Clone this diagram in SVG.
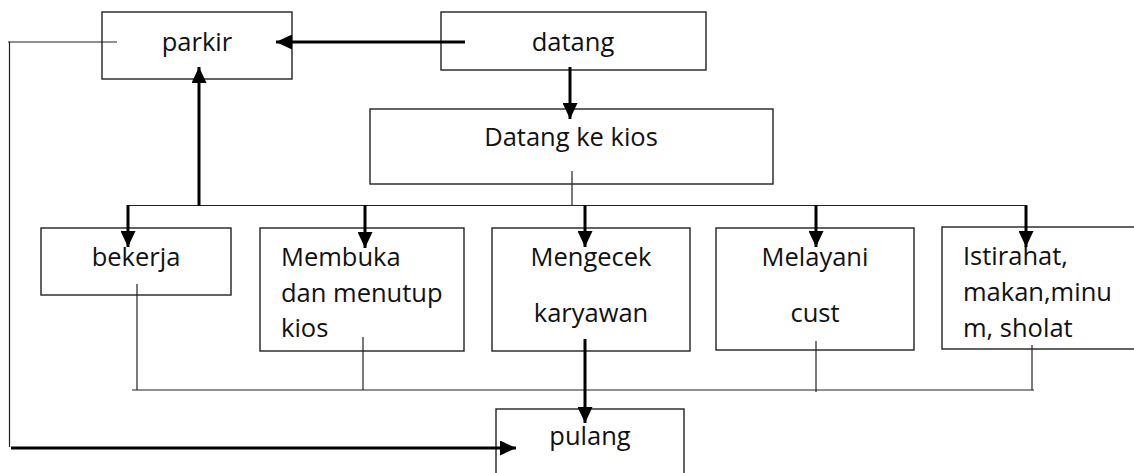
<svg xmlns="http://www.w3.org/2000/svg" width="1134" height="473" viewBox="0 0 1134 473">
  <style>
    .box { fill: #fff; stroke: #222; stroke-width: 1.4; }
    .lbl { font-family: "Open Sans", "Liberation Sans", sans-serif; font-size: 25.5px; fill: #111; }
    .mid { text-anchor: middle; }
    .thick { stroke: #000; stroke-width: 3; fill: none; }
    .thin { stroke: #222; stroke-width: 1.2; fill: none; }
    .arr { marker-end: url(#head); }
  </style>
  <defs>
    <marker id="head" markerUnits="userSpaceOnUse" markerWidth="16" markerHeight="15" refX="16" refY="7.5" orient="auto">
      <path d="M0,0 L16,7.5 L0,15 Z" fill="#000"/>
    </marker>
  </defs>
  <rect width="1134" height="473" fill="#fff"/>

  <g id="node-parkir">
    <rect class="box" x="102" y="12" width="190" height="67"/>
    <text class="lbl mid" x="197" y="51">parkir</text>
  </g>
  <g id="node-datang">
    <rect class="box" x="441" y="12" width="265" height="58"/>
    <text class="lbl mid" x="573" y="51">datang</text>
  </g>
  <g id="node-datang-ke-kios">
    <rect class="box" x="370" y="109" width="403" height="75"/>
    <text class="lbl mid" x="571" y="146">Datang ke kios</text>
  </g>
  <g id="node-bekerja">
    <rect class="box" x="41" y="228" width="190" height="67"/>
    <text class="lbl mid" x="136" y="266">bekerja</text>
  </g>
  <g id="node-membuka">
    <rect class="box" x="260" y="228" width="204" height="123"/>
    <text class="lbl" x="281" y="266">Membuka</text>
    <text class="lbl" x="281" y="302">dan menutup</text>
    <text class="lbl" x="281" y="337">kios</text>
  </g>
  <g id="node-mengecek">
    <rect class="box" x="492" y="228" width="198" height="123"/>
    <text class="lbl mid" x="591" y="266">Mengecek</text>
    <text class="lbl mid" x="591" y="322">karyawan</text>
  </g>
  <g id="node-melayani">
    <rect class="box" x="716" y="228" width="198" height="122"/>
    <text class="lbl mid" x="815" y="266">Melayani</text>
    <text class="lbl mid" x="815" y="322">cust</text>
  </g>
  <g id="node-istirahat">
    <rect class="box" x="942" y="227" width="200" height="122"/>
    <text class="lbl" x="963" y="265">Istirahat,</text>
    <text class="lbl" x="963" y="301">makan,minu</text>
    <text class="lbl" x="963" y="337">m, sholat</text>
  </g>
  <g id="node-pulang">
    <rect class="box" x="496" y="409" width="188" height="80"/>
    <text class="lbl mid" x="590" y="445">pulang</text>
  </g>

  <g id="connectors">
    <!-- datang to parkir -->
    <line class="thick arr" x1="465" y1="42" x2="276" y2="42"/>
    <!-- datang to Datang ke kios -->
    <line class="thick arr" x1="570" y1="67" x2="570" y2="119"/>
    <!-- Datang ke kios down to the distribution bar -->
    <line class="thin" x1="572" y1="171" x2="572" y2="206"/>
    <line class="thin" x1="128" y1="205.5" x2="1026" y2="205.5"/>
    <!-- bar up to parkir -->
    <line class="thick arr" x1="199" y1="206" x2="199" y2="67"/>
    <!-- bar down to each task -->
    <line class="thick arr" x1="128" y1="205" x2="128" y2="247"/>
    <line class="thick arr" x1="365" y1="205" x2="365" y2="248"/>
    <line class="thick arr" x1="585" y1="205" x2="585" y2="247"/>
    <line class="thick arr" x1="816" y1="205" x2="816" y2="247"/>
    <line class="thick arr" x1="1026" y1="205" x2="1026" y2="247"/>
    <!-- tasks gathered below -->
    <line class="thin" x1="137" y1="284" x2="137" y2="390"/>
    <line class="thin" x1="363" y1="337" x2="363" y2="390"/>
    <line class="thin" x1="816" y1="341" x2="816" y2="392"/>
    <line class="thin" x1="1032" y1="345" x2="1032" y2="390"/>
    <line class="thin" x1="132" y1="390" x2="1034" y2="390"/>
    <!-- Mengecek karyawan to pulang -->
    <line class="thick arr" x1="585" y1="339" x2="585" y2="423"/>
    <!-- parkir round the left side to pulang -->
    <line class="thin" x1="8" y1="42" x2="117" y2="42"/>
    <line class="thin" x1="9.5" y1="42" x2="9.5" y2="447"/>
    <line class="thick arr" x1="11" y1="448" x2="516" y2="448"/>
  </g>
</svg>
